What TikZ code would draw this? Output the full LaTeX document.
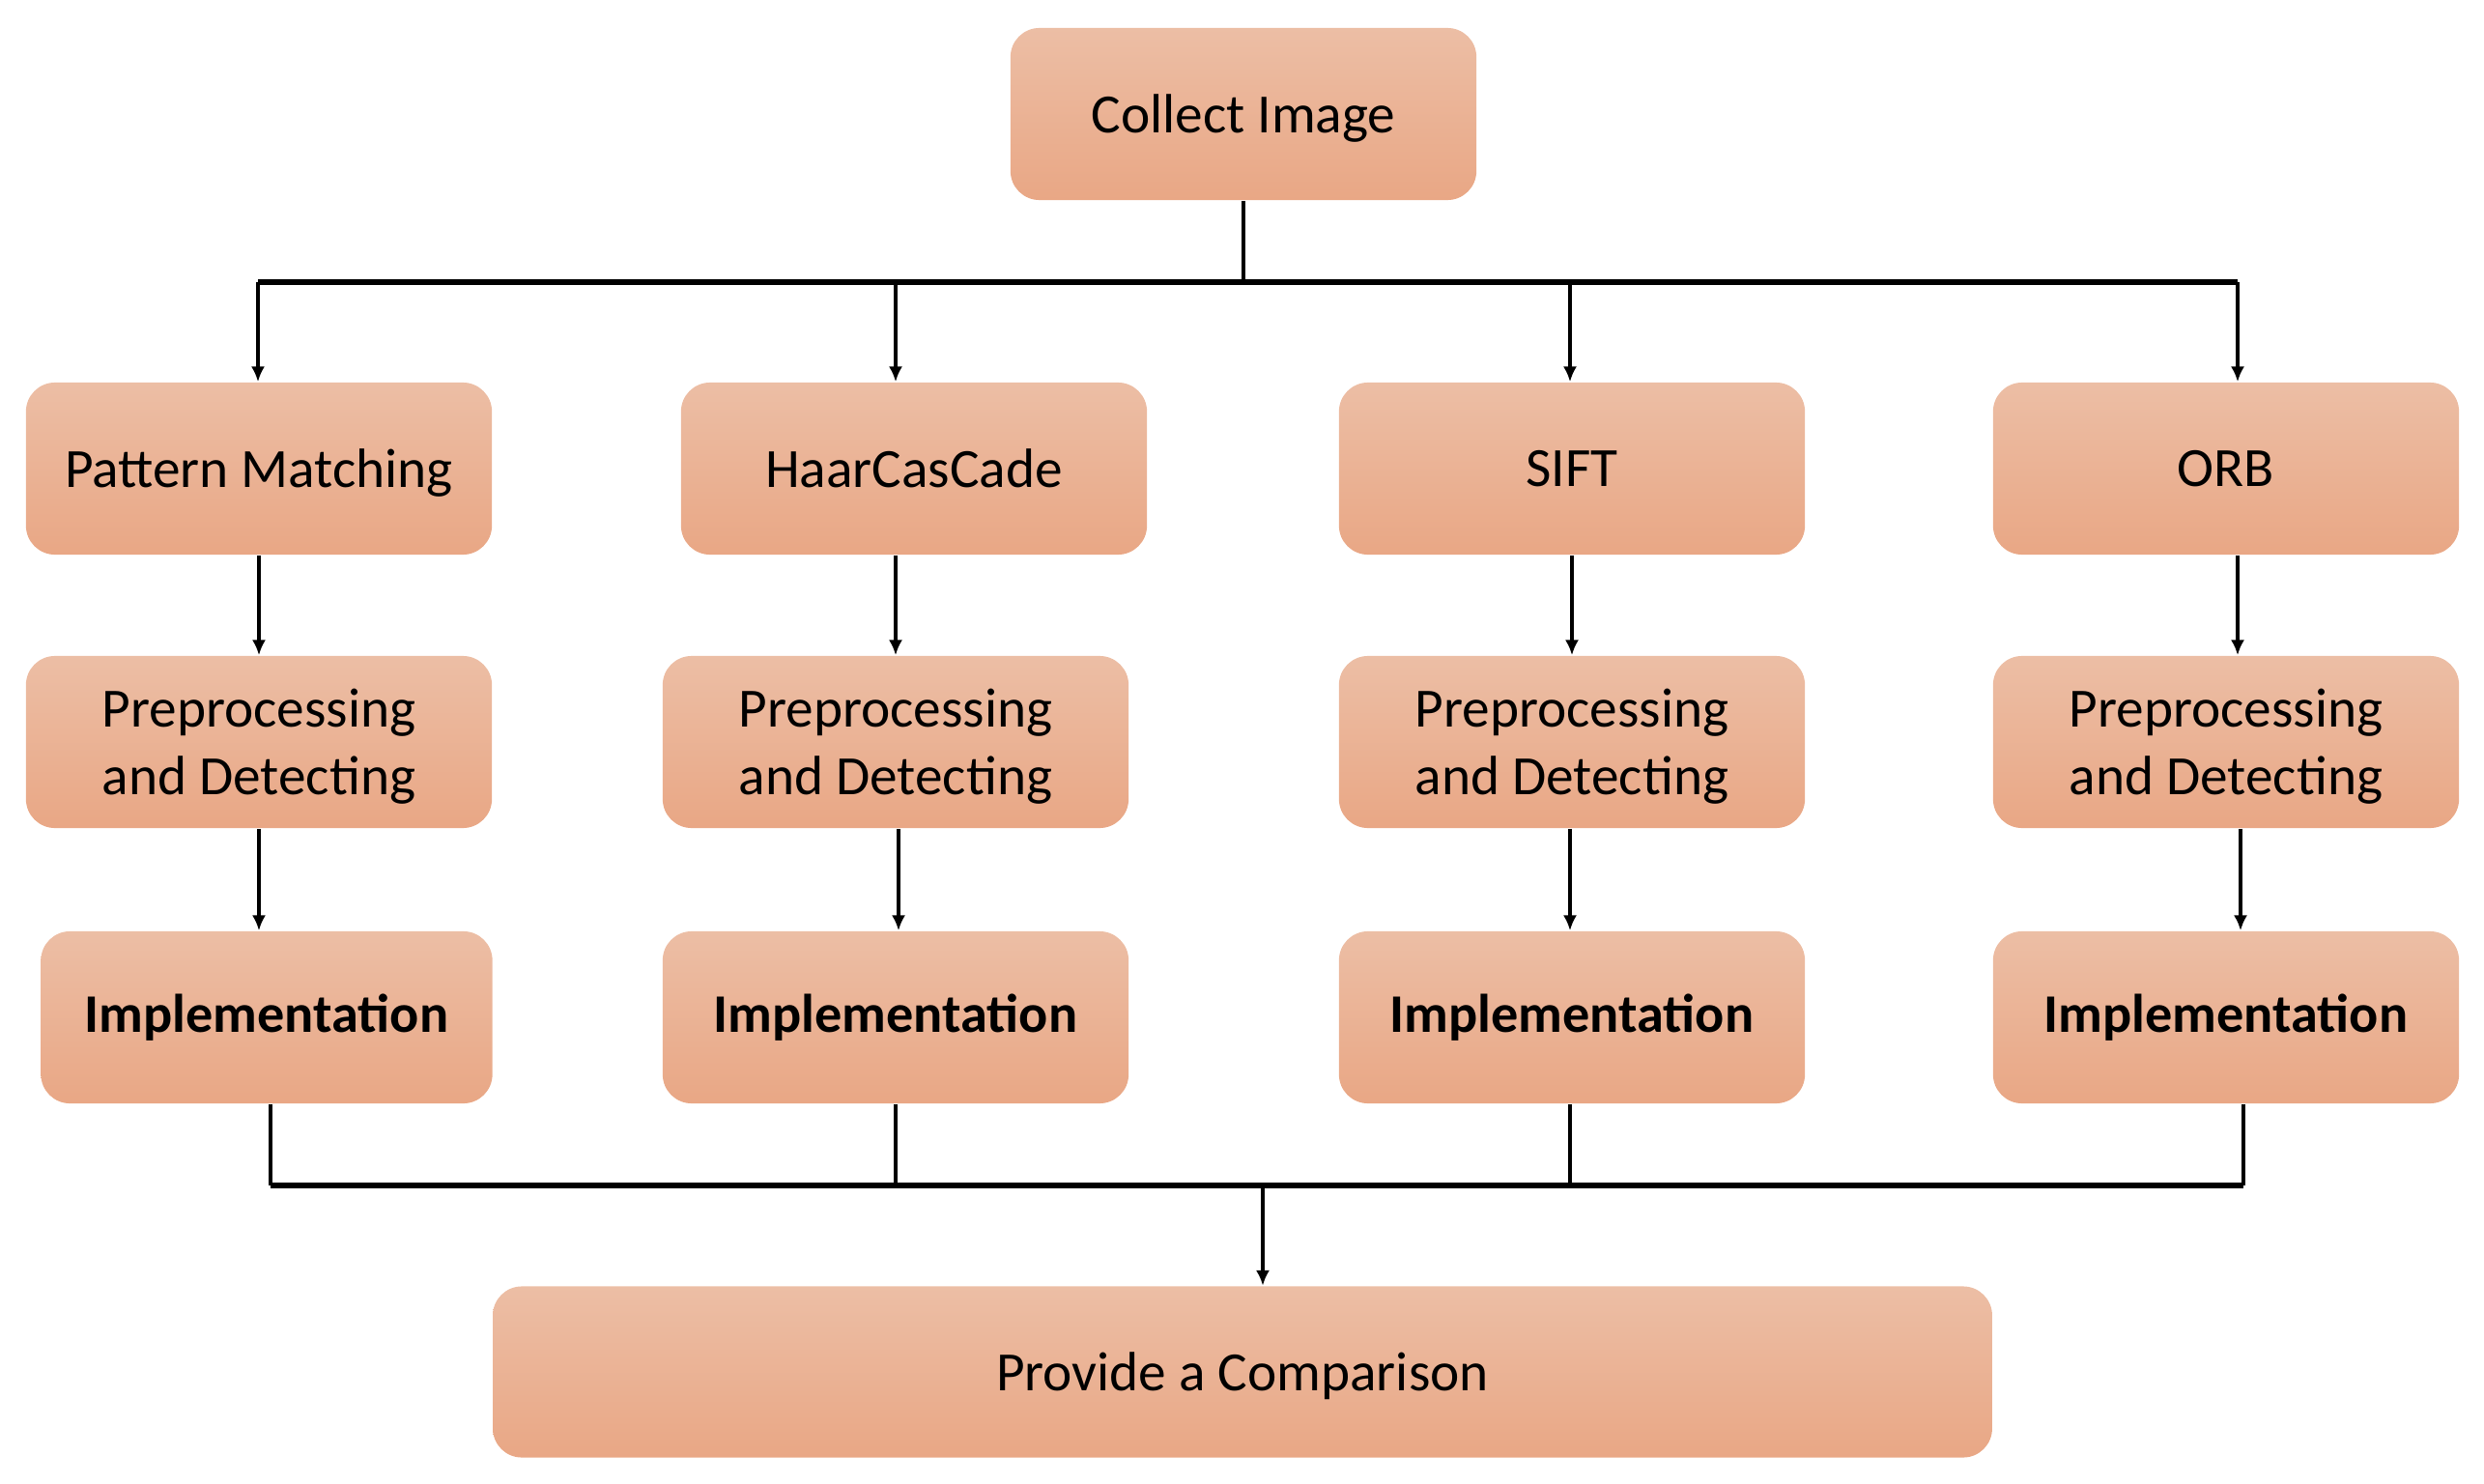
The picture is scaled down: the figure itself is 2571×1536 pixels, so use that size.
\documentclass[tikz,border=0pt]{standalone}
\usepackage{fontspec}
\setmainfont{Carlito}
\usetikzlibrary{arrows.meta}
\definecolor{boxtop}{HTML}{ECBEA5}
\definecolor{boxbot}{HTML}{E9A785}
\begin{document}
\begin{tikzpicture}[x=0.01cm,y=-0.01cm,
  shapebase/.style={rounded corners=0.3cm, top color=boxtop, bottom color=boxbot,
    minimum width=4.82cm, minimum height=1.78cm, inner sep=0pt, align=center},
  box/.style={shapebase, text depth=0pt, font=\fontsize{16.3}{20}\selectfont},
  impl/.style={shapebase, font=\fontsize{16}{20}\selectfont\bfseries},
  conn/.style={line width=1.4pt},
  bar/.style={line width=1.8pt},
  arr/.style={conn,-{Latex[length=4.5pt,width=4pt]}}]
\useasboundingbox (0,0) rectangle (2571,1536);

\node[box] (ci) at (1287,118) {Collect Image};

\node[box] (pm)  at (268,485)  {Pattern Matching};
\node[box] (hc)  at (946,485)  {HaarCasCade};
\node[box] (sf)  at (1627,485) {SIFT};
\node[box] (orb) at (2304,485) {ORB};

\node[box] (pp1) at (268,768)  {Preprocessing\\and Detecting};
\node[box] (pp2) at (927,768)  {Preprocessing\\and Detecting};
\node[box] (pp3) at (1627,768) {Preprocessing\\and Detecting};
\node[box] (pp4) at (2304,768) {Preprocessing\\and Detecting};

\node[impl, minimum width=4.67cm] (im1) at (276,1053) {Implementation};
\node[impl] (im2) at (927,1053)  {Implementation};
\node[impl] (im3) at (1627,1053) {Implementation};
\node[impl] (im4) at (2304,1053) {Implementation};

\node[box, minimum width=15.51cm, minimum height=1.77cm] (cmp) at (1286,1420) {Provide a Comparison};

% top distribution
\coordinate (a1) at (267,292);
\coordinate (a2) at (927,292);
\coordinate (a3) at (1625,292);
\coordinate (a4) at (2316,292);
\draw[conn] (ci.south) -- (ci.south |- a1);
\draw[bar] (a1) -- (a4);
\draw[arr] (a1) -- (a1 |- pm.north);
\draw[arr] (a2) -- (a2 |- hc.north);
\draw[arr] (a3) -- (a3 |- sf.north);
\draw[arr] (a4) -- (a4 |- orb.north);

% row1 -> row2
\draw[arr] (pm.south) -- (pp1.north);
\draw[arr] (pp2.north |- hc.south) -- (pp2.north);
\draw[arr] (sf.south) -- (pp3.north);
\draw[arr] ([xshift=0.12cm]orb.south) -- ([xshift=0.12cm]pp4.north);

% row2 -> row3
\draw[arr] (pp1.south) -- (pp1.south |- im1.north);
\draw[arr] ([xshift=0.03cm]pp2.south) -- ([xshift=0.03cm]im2.north);
\draw[arr] ([xshift=-0.02cm]pp3.south) -- ([xshift=-0.02cm]im3.north);
\draw[arr] ([xshift=0.15cm]pp4.south) -- ([xshift=0.15cm]im4.north);

% bottom collection
\coordinate (b1) at (280,1227);
\coordinate (b2) at (927,1227);
\coordinate (b3) at (1625,1227);
\coordinate (b4) at (2322,1227);
\coordinate (bm) at (1307,1227);
\draw[conn] (im1.south -| b1) -- (b1);
\draw[conn] (im2.south -| b2) -- (b2);
\draw[conn] (im3.south -| b3) -- (b3);
\draw[conn] (im4.south -| b4) -- (b4);
\draw[bar] (b1) -- (b4);
\draw[arr] (bm) -- (bm |- cmp.north);
\end{tikzpicture}
\end{document}
